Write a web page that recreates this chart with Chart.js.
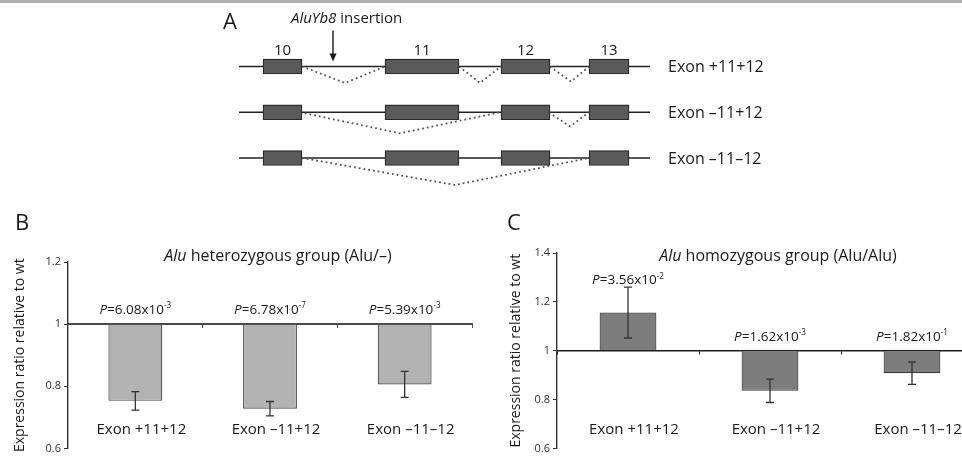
<!DOCTYPE html>
<html>
<head>
<meta charset="utf-8">
<script src="https://cdn.jsdelivr.net/npm/chart.js"></script>
<style>
    body {margin: 0; width: 962px; height: 458px; overflow: hidden; background: #fff; position: relative; font-family: 'Open Sans', sans-serif;}
    .band {position: absolute; left: 0; top: 0; width: 962px; height: 3px; background: #b0b0b0;}
    .box {position: absolute;}
</style>
</head>
<body>
<div class="band"></div>
<div class="box" style="left:200px;top:0"><canvas id="mapChart" width="600" height="200"></canvas></div>
<div class="box" style="left:0;top:200px"><canvas id="hetChart" width="480" height="258"></canvas></div>
<div class="box" style="left:480px;top:200px"><canvas id="homChart" width="512" height="258"></canvas></div>

<script>
// panel A: exon map (positions along the drawn locus)
const exonNames = ['10', '11', '12', '13'];
const exonStart = [263, 385, 501, 589];
const exonEnd = [302, 459, 550, 629];
const locusStart = 239;
const locusEnd = 650;
const aluInsertion = 333;
const isoforms = ['Exon +11+12', 'Exon –11+12', 'Exon –11–12'];

// splice junctions: isoform row, donor, acceptor, lowest point, depth (in rows)
const junctionRow = [0, 0, 0, 1, 1, 2];
const junctionFrom = [302, 459, 550, 300, 549, 302];
const junctionTo = [385, 501, 589, 500, 589, 589];
const junctionApex = [345, 480, 571, 400, 570, 455];
const junctionDip = [0.36, 0.36, 0.33, 0.46, 0.31, 0.59];

// panels B and C
const exonLabels = ['Exon +11+12', 'Exon –11+12', 'Exon –11–12'];
const hetRatio = [0.753, 0.728, 0.806];
const hetError = [0.030, 0.023, 0.042];
const hetP = ['6.08', '6.78', '5.39'];
const hetExp = ['-3', '-7', '-3'];
const homRatio = [1.156, 0.836, 0.908];
const homError = [0.104, 0.048, 0.046];
const homP = ['3.56', '1.62', '1.82'];
const homExp = ['-2', '-3', '-1'];

const FONT = "'Open Sans', sans-serif";
const INK = '#1a1a1a';

function drawRich(ctx, parts, x, y, size, align) {
    const fontOf = p => (p[1] === 'i' ? 'italic ' : '') + (p[1] === 's' ? size * 0.6 : size) + 'px ' + FONT;
    let w = 0;
    parts.forEach(p => { ctx.font = fontOf(p); w += ctx.measureText(p[0]).width; });
    let cx = align === 'center' ? x - w / 2 : x;
    ctx.textAlign = 'left';
    parts.forEach(p => {
        ctx.font = fontOf(p);
        ctx.fillText(p[0], cx, p[1] === 's' ? y - size * 0.42 : y);
        cx += ctx.measureText(p[0]).width;
    });
}

const mapText = {
    id: 'mapText',
    afterDraw(chart) {
        const {ctx, scales: {x, y}} = chart;
        const row0 = y.getPixelForValue(0);
        ctx.save();
        ctx.fillStyle = INK;
        ctx.textBaseline = 'alphabetic';
        ctx.textAlign = 'center';
        ctx.font = '22px ' + FONT;
        ctx.fillText('A', 30, 29);
        ctx.font = '15px ' + FONT;
        exonNames.forEach((n, i) => {
            ctx.fillText(n, x.getPixelForValue((exonStart[i] + exonEnd[i]) / 2), row0 - 12);
        });
        ctx.textAlign = 'left';
        ctx.font = '16px ' + FONT;
        isoforms.forEach((n, r) => {
            ctx.fillText(n, x.getPixelForValue(locusEnd) + 18, y.getPixelForValue(r) + 5.5);
        });
        // insertion arrow
        const ax = x.getPixelForValue(aluInsertion);
        const tip = row0 - 5;
        ctx.strokeStyle = INK;
        ctx.lineWidth = 1.4;
        ctx.beginPath();
        ctx.moveTo(ax, tip - 31);
        ctx.lineTo(ax, tip - 6);
        ctx.stroke();
        ctx.beginPath();
        ctx.moveTo(ax - 3.5, tip - 8);
        ctx.lineTo(ax + 3.5, tip - 8);
        ctx.lineTo(ax, tip);
        ctx.closePath();
        ctx.fill();
        drawRich(ctx, [['AluYb8', 'i'], [' insertion', '']], ax - 42, tip - 39, 15, 'left');
        ctx.restore();
    }
};

new Chart(document.getElementById('mapChart'), {
    type: 'bar',
    data: {
        datasets: [
            ...isoforms.map((n, r) => ({
                type: 'line',
                data: [{x: locusStart, y: r}, {x: locusEnd, y: r}],
                borderColor: '#222', borderWidth: 1.4, pointRadius: 0, order: 3
            })),
            ...junctionRow.map((r, j) => ({
                type: 'line',
                data: [{x: junctionFrom[j], y: r}, {x: junctionApex[j], y: r + junctionDip[j]}, {x: junctionTo[j], y: r}],
                borderColor: '#555', borderWidth: 1.8, borderDash: [1.8, 3], pointRadius: 0, order: 2
            })),
            {
                type: 'bar',
                indexAxis: 'y',
                data: isoforms.flatMap((n, r) => exonStart.map((s, i) => ({x: [s, exonEnd[i]], y: r}))),
                backgroundColor: '#5a5a5a', borderColor: '#262626', borderWidth: 1.2,
                borderSkipped: false, barThickness: 15, order: 1
            }
        ]
    },
    options: {
        responsive: false,
        animation: false,
        layout: {padding: 0},
        plugins: {legend: {display: false}, tooltip: {enabled: false}},
        scales: {
            x: {type: 'linear', display: false, min: 200, max: 800, offset: false},
            y: {type: 'linear', display: false, min: -1.454, max: 2.918, reverse: true, offset: false}
        }
    },
    plugins: [mapText]
});

function makeBarText(o) {
    return {
        id: 'barText',
        afterDraw(chart) {
            const {ctx, chartArea: a, scales: {y}} = chart;
            ctx.save();
            ctx.fillStyle = INK;
            ctx.textBaseline = 'alphabetic';
            ctx.textAlign = 'center';
            ctx.font = '22px ' + FONT;
            ctx.fillText(o.letter, o.letterX, 30);
            drawRich(ctx, [['Alu', 'i'], [o.title, '']], (a.left + a.right) / 2 + 8, 60.5, 16, 'center');
            ctx.strokeStyle = '#333';
            ctx.lineWidth = 1.3;
            chart.getDatasetMeta(0).data.forEach((bar, i) => {
                const hi = y.getPixelForValue(o.ratio[i] + o.err[i]);
                const lo = y.getPixelForValue(o.ratio[i] - o.err[i]);
                ctx.beginPath();
                ctx.moveTo(bar.x, hi); ctx.lineTo(bar.x, lo);
                ctx.moveTo(bar.x - 4, hi); ctx.lineTo(bar.x + 4, hi);
                ctx.moveTo(bar.x - 4, lo); ctx.lineTo(bar.x + 4, lo);
                ctx.stroke();
                const base = Math.min(y.getPixelForValue(1) - 10, hi - 3);
                drawRich(ctx, [['P', 'i'], ['=' + o.pMant[i] + 'x10', ''], [o.pExp[i], 's']], bar.x, base, 13.5, 'center');
                ctx.font = '15px ' + FONT;
                ctx.textAlign = 'center';
                ctx.fillText(exonLabels[i], bar.x + 6, a.bottom - 14);
            });
            ctx.restore();
        }
    };
}

function barChart(id, o) {
    return new Chart(document.getElementById(id), {
        type: 'bar',
        data: {
            labels: exonLabels,
            datasets: [{
                data: o.ratio, base: 1,
                backgroundColor: o.fill, borderColor: o.edge, borderWidth: 1.2,
                barPercentage: 0.4, categoryPercentage: 1
            }]
        },
        options: {
            responsive: false,
            animation: false,
            layout: {padding: o.pad},
            plugins: {legend: {display: false}, tooltip: {enabled: false}},
            scales: {
                x: {
                    position: {y: 1}, z: 1,
                    afterFit: s => { s.height = 0; },
                    ticks: {display: false},
                    grid: {drawOnChartArea: false, tickLength: 3, color: o.axis},
                    border: {color: o.axis, width: o.baseWidth}
                },
                y: {
                    min: o.min, max: o.max,
                    afterFit: s => { s.width = o.axisWidth; },
                    ticks: {stepSize: 0.2, padding: 3, color: '#333', font: {size: 11, family: FONT}, callback: v => +v.toFixed(1)},
                    grid: {drawOnChartArea: false, tickLength: 4, color: '#333'},
                    border: {color: '#333', width: 1.4},
                    title: {
                        display: true, text: 'Expression ratio relative to wt', color: INK,
                        font: {size: 14, family: FONT}, padding: {top: o.titlePad, bottom: 0}
                    }
                }
            }
        },
        plugins: [makeBarText(o)]
    });
}

barChart('hetChart', {
    letter: 'B', letterX: 22, ratio: hetRatio, err: hetError, pMant: hetP, pExp: hetExp,
    title: ' heterozygous group (Alu/–)', min: 0.6, max: 1.2,
    fill: '#b3b3b3', edge: '#4a4a4a', axis: '#4a4a4a', baseWidth: 2,
    axisWidth: 68, titlePad: 11.6, pad: {top: 62, bottom: 7, left: 0, right: 8}
});

barChart('homChart', {
    letter: 'C', letterX: 34, ratio: homRatio, err: homError, pMant: homP, pExp: homExp,
    title: ' homozygous group (Alu/Alu)', min: 0.6, max: 1.4,
    fill: '#7d7d7d', edge: '#3a3a3a', axis: '#1a1a1a', baseWidth: 1.5,
    axisWidth: 77, titlePad: 27.6, pad: {top: 53, bottom: 5, left: 0, right: 9}
});
</script>
</body>
</html>
